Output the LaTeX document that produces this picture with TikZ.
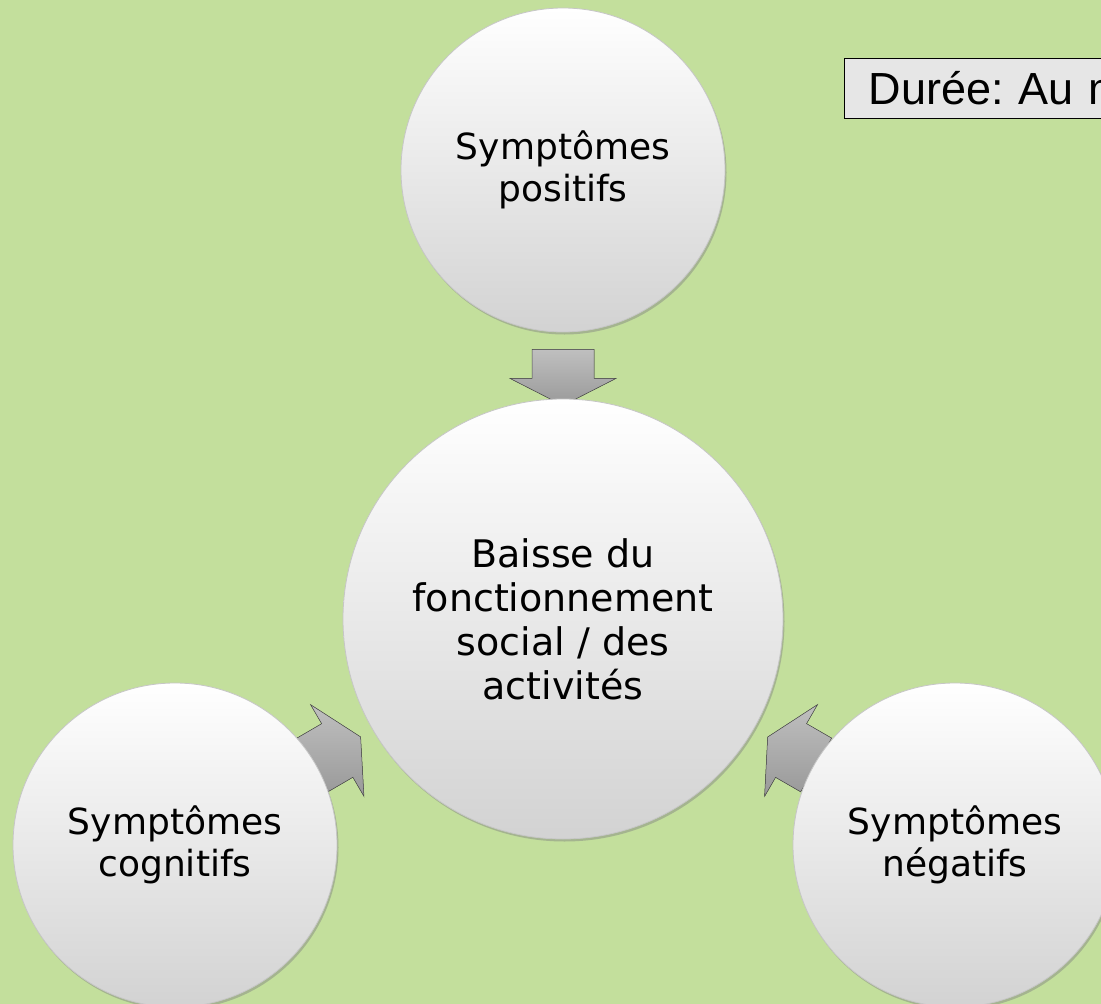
\documentclass[tikz,border=0pt]{standalone}
\usepackage{fontspec}
\setmainfont{DejaVu Sans}
\newfontfamily\boxfont{Liberation Sans}
\usetikzlibrary{shadows}
\frenchspacing
\definecolor{slidegreen}{RGB}{195,223,156}
\definecolor{boxgray}{RGB}{230,230,230}
\pgfdeclarelayer{back}
\pgfsetlayers{back,main}
\tikzset{
	bubble/.style={circle, draw=gray!45, line width=0.8pt, top color=white, bottom color=gray!35, align=center, inner sep=0pt, drop shadow={shadow xshift=1.5pt, shadow yshift=-2.5pt, opacity=0.45}},
	sidebubble/.style={bubble, minimum size=324pt, font=\fontsize{36}{42}\selectfont},
	midbubble/.style={bubble, minimum size=440pt, font=\fontsize{38}{44}\selectfont},
	durbox/.style={draw=black, line width=1.2pt, fill=boxgray, anchor=north west, minimum height=60pt, text width=330pt, inner xsep=24pt, align=left, font=\boxfont\fontsize{45}{50}\selectfont},
	blockarrow/.pic={\fill[top color=gray!50, bottom color=gray!80, draw=gray!60!black, line width=0.5pt] (-28,-31) -- (1,-31) -- (1,-53) -- (28,0) -- (1,53) -- (1,31) -- (-28,31) -- cycle;}
}
\begin{document}
\begin{tikzpicture}[x=1pt,y=-1pt]
			\useasboundingbox (0,0) rectangle (1101,1004);
			\begin{pgfonlayer}{back}
			\fill[slidegreen] (0,0) rectangle (1101,1004);
			\end{pgfonlayer}
			\node[midbubble] (baisse) at (563,619) {Baisse du\\fonctionnement\\social / des\\activités};
			\node[sidebubble] (posit) at (563,170) {Symptômes\\positifs};
			\node[sidebubble] (cogn) at (175,845) {Symptômes\\cognitifs};
			\node[sidebubble] (negat) at (955,845) {Symptômes\\négatifs};
			% fleches sous les cercles
			\begin{pgfonlayer}{back}
			\path (posit.center) -- (baisse.center) pic[pos=0.462, sloped, allow upside down] {blockarrow};
			\path (cogn.center) -- (baisse.center) pic[pos=0.416, sloped, allow upside down] {blockarrow};
			\path (negat.center) -- (baisse.center) pic[pos=0.416, sloped, allow upside down] {blockarrow};
			\end{pgfonlayer}
			\node[durbox] (duree) at (844,58) {Durée: Au m};
		\end{tikzpicture}
\end{document}
